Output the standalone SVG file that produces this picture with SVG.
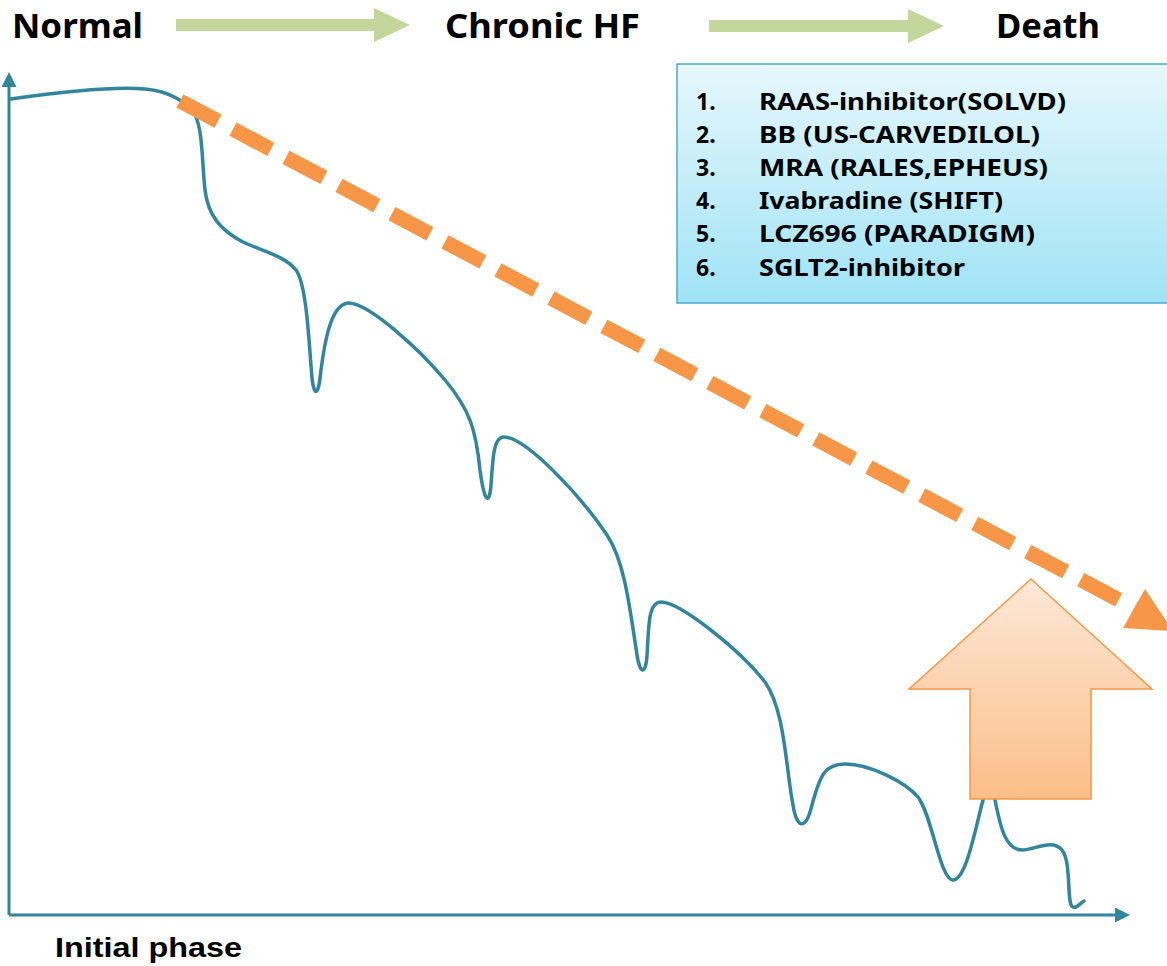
<svg xmlns="http://www.w3.org/2000/svg" width="1167" height="966" viewBox="0 0 1167 966">
<defs>
<linearGradient id="boxGrad" x1="0" y1="0" x2="0" y2="1">
<stop offset="0" stop-color="#E6F7FC"/>
<stop offset="1" stop-color="#A0E3F6"/>
</linearGradient>
<linearGradient id="upGrad" x1="0" y1="0" x2="0" y2="1">
<stop offset="0" stop-color="#FDE8D7"/>
<stop offset="1" stop-color="#FBBE88"/>
</linearGradient>
<marker id="axisHead" viewBox="0 0 10 10" refX="2" refY="5" markerWidth="5" markerHeight="5" orient="auto" markerUnits="strokeWidth">
<path d="M0,0 L10,5 L0,10 Z" fill="#31859C"/>
</marker>
</defs>
<style>
.head{font-family:"Noto Sans","Open Sans",sans-serif;font-weight:bold;font-size:34px;fill:#000}
.item{font-family:"Noto Sans","Open Sans",sans-serif;font-weight:bold;font-size:23px;fill:#000}
.axis{stroke:#31859C;stroke-width:3;fill:none}
.green{fill:#C3D69B}
</style>
<g id="header">
<text class="head" x="12" y="38" textLength="131" lengthAdjust="spacingAndGlyphs">Normal</text>
<text class="head" x="445" y="38" textLength="195" lengthAdjust="spacingAndGlyphs">Chronic HF</text>
<text class="head" x="996" y="38" textLength="104" lengthAdjust="spacingAndGlyphs">Death</text>
</g>
<g id="phase-arrows">
<polygon class="green" points="176,19 374,19 374,8 410,25 374,42 374,31 176,31"/>
<polygon class="green" points="709,20 908,20 908,9 944,26 908,43 908,32 709,32"/>
</g>
<g id="axes">
<line class="axis" x1="9" y1="915" x2="9" y2="84" marker-end="url(#axisHead)"/>
<line class="axis" x1="9" y1="915" x2="1118" y2="915" marker-end="url(#axisHead)"/>
</g>
<g id="curve">
<path fill="none" stroke="#31859C" stroke-width="3.5" stroke-linecap="round" d="M 11 99 C 60 92, 110 86, 145 89 C 170 91, 188 103, 195 115 C 203 130, 202 165, 205 190 C 208 215, 220 230, 243 242 C 262 251, 285 256, 296 270 C 307 285, 309 345, 312 378 C 314 396, 318 396, 320 378 C 324 345, 330 305, 348 303 C 368 302, 420 350, 445 380 C 470 410, 476 430, 480 470 C 484 500, 489 508, 491 485 C 493 455, 494 438, 503 437 C 525 436, 580 495, 607 535 C 625 562, 630 610, 637 655 C 640 675, 646 675, 647 655 C 649 625, 648 602, 661 602 C 680 602, 740 650, 765 682 C 785 710, 786 770, 793 805 C 797 830, 806 830, 812 805 C 820 775, 825 764, 845 764 C 870 764, 905 782, 918 797 C 932 815, 940 880, 953 880 C 966 880, 975 830, 983 800 C 987 785, 991 785, 995 800 C 1000 825, 1005 850, 1022 850 C 1035 850, 1052 838, 1062 850 C 1072 862, 1066 905, 1073 907 C 1077 909, 1080 903, 1084 901"/>
</g>
<g id="trend">
<line x1="180" y1="101" x2="1134" y2="608" stroke="#F79646" stroke-width="15" stroke-dasharray="43 17"/>
<polygon points="1123,628 1145,589 1173,631" fill="#F79646"/>
</g>
<g id="improve-arrow">
<polygon points="1031,579 1152,689 1091,689 1091,799 970,799 970,689 909,689" fill="url(#upGrad)" stroke="#F79646" stroke-width="1.5"/>
</g>
<g id="therapy-box">
<rect x="677" y="64" width="500" height="239" fill="url(#boxGrad)" stroke="#4BACC6" stroke-width="1.5"/>
<text class="item" x="696" y="110">1.</text><text class="item" x="759" y="110" textLength="307" lengthAdjust="spacingAndGlyphs">RAAS-inhibitor(SOLVD)</text>
<text class="item" x="696" y="143">2.</text><text class="item" x="759" y="143" textLength="281" lengthAdjust="spacingAndGlyphs">BB (US-CARVEDILOL)</text>
<text class="item" x="696" y="176">3.</text><text class="item" x="759" y="176" textLength="289" lengthAdjust="spacingAndGlyphs">MRA (RALES,EPHEUS)</text>
<text class="item" x="696" y="209">4.</text><text class="item" x="759" y="209" textLength="244" lengthAdjust="spacingAndGlyphs">Ivabradine (SHIFT)</text>
<text class="item" x="696" y="242">5.</text><text class="item" x="759" y="242" textLength="276" lengthAdjust="spacingAndGlyphs">LCZ696 (PARADIGM)</text>
<text class="item" x="696" y="276">6.</text><text class="item" x="759" y="276" textLength="206" lengthAdjust="spacingAndGlyphs">SGLT2-inhibitor</text>
</g>
<g id="xlabel">
<text x="55" y="957" font-family="'Liberation Sans', Arial, sans-serif" font-weight="bold" font-size="28" fill="#000" textLength="187" lengthAdjust="spacingAndGlyphs">Initial phase</text>
</g>
</svg>
